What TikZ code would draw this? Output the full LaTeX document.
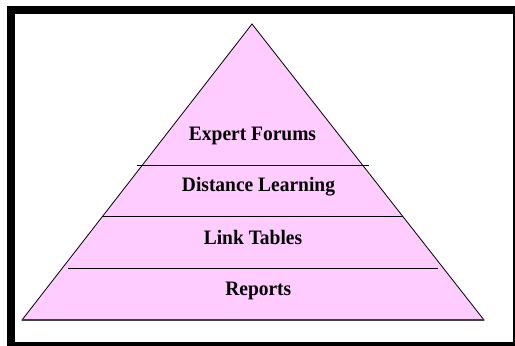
\documentclass[tikz,border=0pt]{standalone}
\usepackage{fontspec}
\setmainfont{Liberation Serif}
\definecolor{pyr}{RGB}{255,204,255}
\newcommand{\pyrtext}[1]{\scalebox{0.95}[1]{#1}}
\begin{document}
\begin{tikzpicture}[x=1pt,y=-1pt,
  lbl/.style={font=\fontsize{20.5}{20.5}\selectfont\bfseries, anchor=base, inner sep=0pt},
  frame/.style={fill=black},
  divider/.style={draw=black, line width=0.8pt}]
\useasboundingbox (0,0) rectangle (515,346);
\fill[white] (0,0) rectangle (515,346);
% frame
\fill[frame] (7,6) rectangle (515,14);
\fill[frame] (7,6) rectangle (15,346);
\fill[frame] (7,342) rectangle (515,346);
\fill[frame] (513,6) rectangle (515,346);
% pyramid
\coordinate (apex) at (252,24);
\coordinate (bl) at (22,320);
\coordinate (br) at (484,320);
\filldraw[fill=pyr, draw=black, line width=0.8pt] (bl) -- (apex) -- (br) -- cycle;
\draw[draw=black!75, line width=1.3pt] (bl) -- (br);
% dividers
\coordinate (d1l) at (137,165.3); \coordinate (d1r) at (369,165.3);
\coordinate (d2l) at (102,216.7); \coordinate (d2r) at (403,216.7);
\coordinate (d3l) at (68,268.3);  \coordinate (d3r) at (438,268.3);
\draw[divider] (d1l) -- (d1r);
\draw[divider] (d2l) -- (d2r);
\draw[divider] (d3l) -- (d3r);
% labels
\node[lbl] (ef) at (252.5,140) {\pyrtext{Expert Forums}};
\node[lbl] (dl) at (258.5,191.7) {\pyrtext{Distance Learning}};
\node[lbl] (lt) at (253,244) {\pyrtext{Link Tables}};
\node[lbl] (rp) at (258.3,295) {\pyrtext{Reports}};
\end{tikzpicture}
\end{document}
